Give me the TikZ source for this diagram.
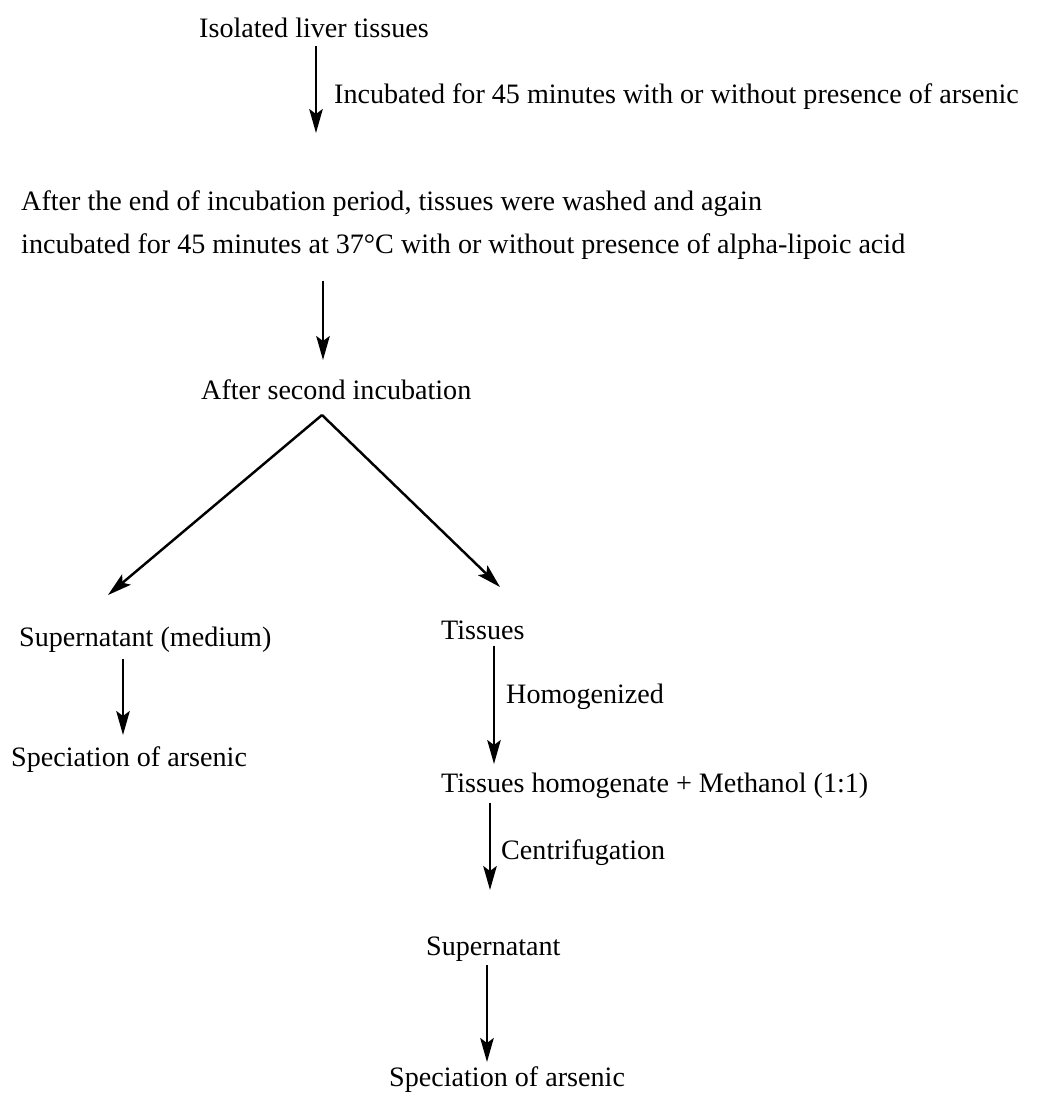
\documentclass[tikz,border=0pt]{standalone}
\usepackage{fontspec}
\setmainfont{Liberation Serif}
\usetikzlibrary{arrows.meta}

\begin{document}
\begin{tikzpicture}[x=0.02cm,y=-0.02cm,->,>={Stealth[length=4.8mm,width=2.7mm,inset=1mm]},line width=1.4pt]
        \tikzstyle{every node}=[inner sep=0pt, anchor=west, font=\fontsize{16}{24.5}\selectfont]
        \useasboundingbox (0,0) rectangle (1048,1093);

        \node (iso)   at (198,28)   {Isolated liver tissues};
        \node (incub) at (333,97)   {Incubated for 45 minutes with or without presence of arsenic};
        \node[align=left] (wash) at (20,225) {After the end of incubation period, tissues were washed and again\\
              incubated for 45 minutes at 37°C with or without presence of alpha-lipoic acid};
        \node (second) at (200,390) {After second incubation};
        \node (medium) at (18,640)  {Supernatant (medium)};
        \node (tissue) at (440,630) {Tissues};
        \node (spec)   at (10,760)  {Speciation of arsenic};
        \node (homog)  at (505,697) {Homogenized};
        \node (meth)   at (440,786) {Tissues homogenate + Methanol (1:1)};
        \node (centr)  at (500,853) {Centrifugation};
        \node (super)  at (425,949) {Supernatant};
        \node (specb)  at (388,1080) {Speciation of arsenic};

        \coordinate (apex) at (322,415);
        \coordinate (t1) at (316,133);
        \coordinate (t2) at (323,360);
        \coordinate (tl) at (108,595);
        \coordinate (tr) at (500,587);
        \coordinate (t4) at (123,735);
        \coordinate (t5) at (494,764);
        \coordinate (t6) at (490,890);
        \coordinate (t7) at (487,1062);

        \draw[shorten <=0.14cm] (iso.south -| t1) -- (t1);
        \draw[shorten <=0.4cm] (wash.south -| t2) -- (t2);
        \draw (apex) -- (tl);
        \draw (apex) -- (tr);
        \draw[shorten <=0.1cm] (medium.south -| t4) -- (t4);
        \draw[shorten <=0.1cm] (tissue.south -| t5) -- (t5);
        \draw[shorten <=0.05cm] (meth.south -| t6) -- (t6);
        \draw[shorten <=0.05cm] (super.south -| t7) -- (t7);
\end{tikzpicture}
\end{document}
